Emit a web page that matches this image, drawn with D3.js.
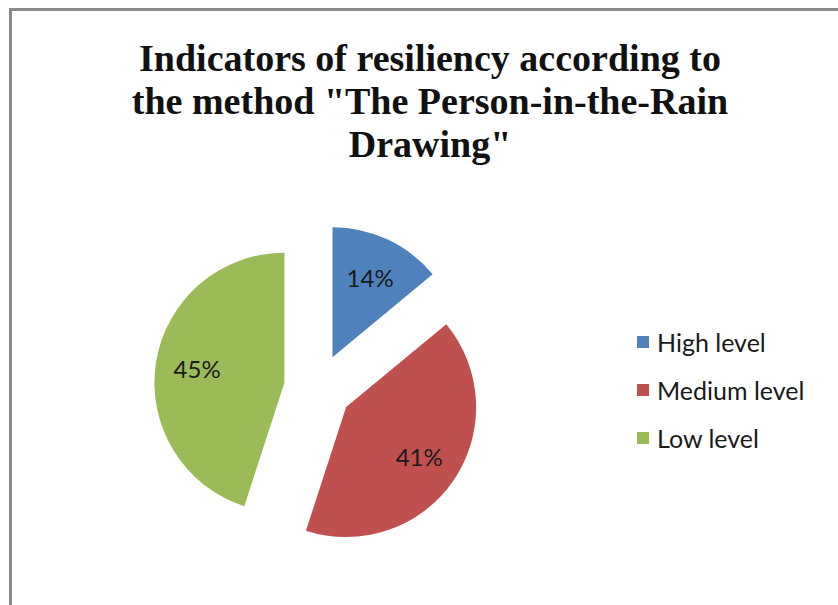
<!DOCTYPE html>
<html><head><meta charset="utf-8">
<script src="https://cdn.jsdelivr.net/npm/d3@7"></script>
<style>body{margin:0;background:#fff}svg{display:block}</style>
</head><body>
<svg id="c" width="838" height="605"></svg>
<script>
const titleLines = ["Indicators of resiliency according to", "the method \"The Person-in-the-Rain", "Drawing\""];
const categories = ["High level", "Medium level", "Low level"];
const values = [14, 41, 45];
const colors = ["#4F81BD", "#C0504D", "#9BBB59"];

const svg = d3.select("#c");
const W = 838, H = 605;
svg.append("rect").attr("width", W).attr("height", H).attr("fill", "#fff");
svg.append("rect").attr("x", 10.5).attr("y", 9.5).attr("width", 1000).attr("height", 1000)
  .attr("fill", "none").attr("stroke", "#8a8a8a").attr("stroke-width", 3);

// title
const title = svg.append("text").attr("text-anchor", "middle")
  .attr("font-family", "'Liberation Serif','Times New Roman',serif").attr("font-weight", "bold")
  .attr("font-size", 38).attr("fill", "#111");
titleLines.forEach((t, i) => title.append("tspan").attr("x", 430).attr("y", 71 + i * 43).text(t));

// pie
const cx = 318, cy = 388, r = 130, explode = 34;
const pie = d3.pie().sort(null).value(d => d)(values);
const arc = d3.arc().innerRadius(0).outerRadius(r);
const g = svg.append("g").attr("transform", `translate(${cx},${cy})`);
pie.forEach((p, i) => {
  const mid = (p.startAngle + p.endAngle) / 2;
  const dx = Math.sin(mid) * explode, dy = -Math.cos(mid) * explode;
  const sg = g.append("g").attr("transform", `translate(${dx},${dy})`);
  sg.append("path").attr("d", arc(p)).attr("fill", colors[i]);
  const lr = r * 0.68;
  sg.append("text").attr("x", Math.sin(mid) * lr).attr("y", -Math.cos(mid) * lr)
    .attr("text-anchor", "middle").attr("dominant-baseline", "central")
    .attr("font-family", "Lato, 'Open Sans', sans-serif").attr("font-size", 24)
    .attr("fill", "#1a1a1a").text(values[i] + "%");
});

// legend
const y = d3.scaleBand().domain(categories).range([318, 462]);
const lg = svg.append("g");
categories.forEach((c, i) => {
  const yc = y(c) + y.bandwidth() / 2;
  lg.append("rect").attr("x", 637).attr("y", yc - 6).attr("width", 12).attr("height", 12).attr("fill", colors[i]);
  lg.append("text").attr("x", 657).attr("y", yc).attr("dominant-baseline", "central")
    .attr("font-family", "Lato, 'Open Sans', sans-serif").attr("font-size", 25)
    .attr("fill", "#1a1a1a").text(c);
});
</script>
</body></html>
